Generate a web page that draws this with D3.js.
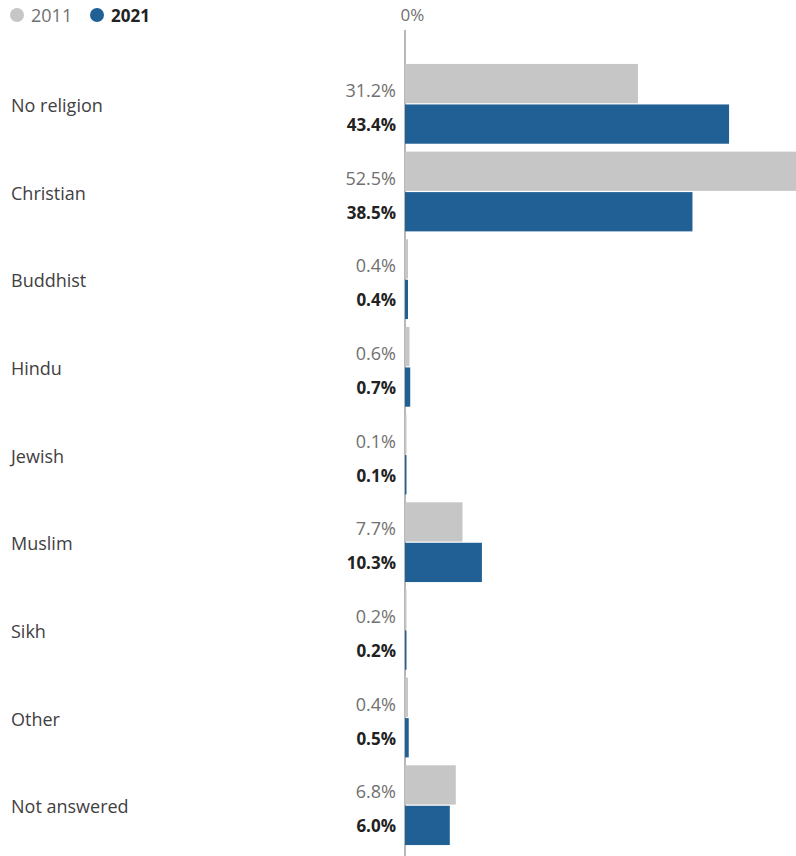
<!DOCTYPE html>
<html>
<head>
<meta charset="utf-8">
<script src="https://cdn.jsdelivr.net/npm/d3@7"></script>
<style>
  body { margin: 0; background: #fff; font-family: "Open Sans", sans-serif; }
</style>
</head>
<body>
<div id="chart"></div>
<script>
// Religion in England and Wales, 2011 vs 2021 (%)
var categories = ["No religion", "Christian", "Buddhist", "Hindu", "Jewish", "Muslim", "Sikh", "Other", "Not answered"];
var values2011 = [31.2, 52.5, 0.4, 0.6, 0.1, 7.7, 0.2, 0.4, 6.8];
var values2021 = [43.4, 38.5, 0.4, 0.7, 0.1, 10.3, 0.2, 0.5, 6.0];
var years = ["2011", "2021"];
var colours = ["#c6c6c6", "#206095"];

var width = 796, height = 856;
var svg = d3.select('#chart')
            .append('svg')
            .attr('width', width)
            .attr('height', height);

// scales
var x = d3.scaleLinear()
          .domain([0, 52.5])
          .range([405, 797]);

var y = d3.scaleBand()
          .domain(categories)
          .range([60, 849])
          .paddingInner(0.09)
          .paddingOuter(0.045);

var y2 = d3.scaleBand()
           .domain(years)
           .range([0, y.bandwidth()])
           .paddingInner(0.03);

// legend
var legend = svg.append('g');
legend.append('circle').attr('cx', 17).attr('cy', 15).attr('r', 7).attr('fill', colours[0]);
legend.append('text').attr('x', 31).attr('y', 22).text(years[0])
      .attr('font-size', 18).attr('fill', '#707070');
legend.append('circle').attr('cx', 97).attr('cy', 15).attr('r', 7).attr('fill', colours[1]);
legend.append('text').attr('x', 111).attr('y', 22).text(years[1])
      .attr('font-size', 17).attr('font-weight', 'bold').attr('fill', '#222');

// top axis label
var xAxis = d3.axisTop(x).tickValues([0]).tickFormat(function(d) { return d + '%'; })
              .tickSize(0).tickPadding(0);
var axisG = svg.append('g').attr('transform', 'translate(0,21)').call(xAxis);
axisG.select('.domain').remove();
axisG.selectAll('text').attr('font-family', '"Open Sans", sans-serif')
     .attr('font-size', 17).attr('fill', '#707070').attr('dx', 7);

// zero line
svg.append('line')
   .attr('x1', x(0)).attr('x2', x(0))
   .attr('y1', 30).attr('y2', height)
   .attr('stroke', '#a0a0a0').attr('stroke-width', 1.5);

var groups = svg.selectAll('.group')
                .data(categories)
                .enter().append('g')
                .attr('class', 'group')
                .attr('transform', function(d) { return 'translate(0,' + y(d) + ')'; });

groups.append('text')
      .attr('x', 11)
      .attr('y', y.bandwidth() / 2 + 2)
      .attr('dy', '0.35em')
      .attr('font-size', 18)
      .attr('fill', '#414042')
      .text(function(d) { return d; });

[values2011, values2021].forEach(function(vals, k) {
  groups.append('rect')
        .attr('x', x(0))
        .attr('y', y2(years[k]))
        .attr('width', function(d, i) { return Math.max(x(vals[i]) - x(0), 1.5); })
        .attr('height', y2.bandwidth())
        .attr('fill', colours[k]);

  groups.append('text')
        .attr('x', x(0) - 9)
        .attr('y', y2(years[k]) + y2.bandwidth() / 2 + (k ? 1 : 7))
        .attr('dy', '0.35em')
        .attr('text-anchor', 'end')
        .attr('font-size', k ? 17 : 18)
        .attr('font-weight', k ? 'bold' : 'normal')
        .attr('fill', k ? '#222' : '#707070')
        .text(function(d, i) { return vals[i].toFixed(1) + '%'; });
});
</script>
</body>
</html>
